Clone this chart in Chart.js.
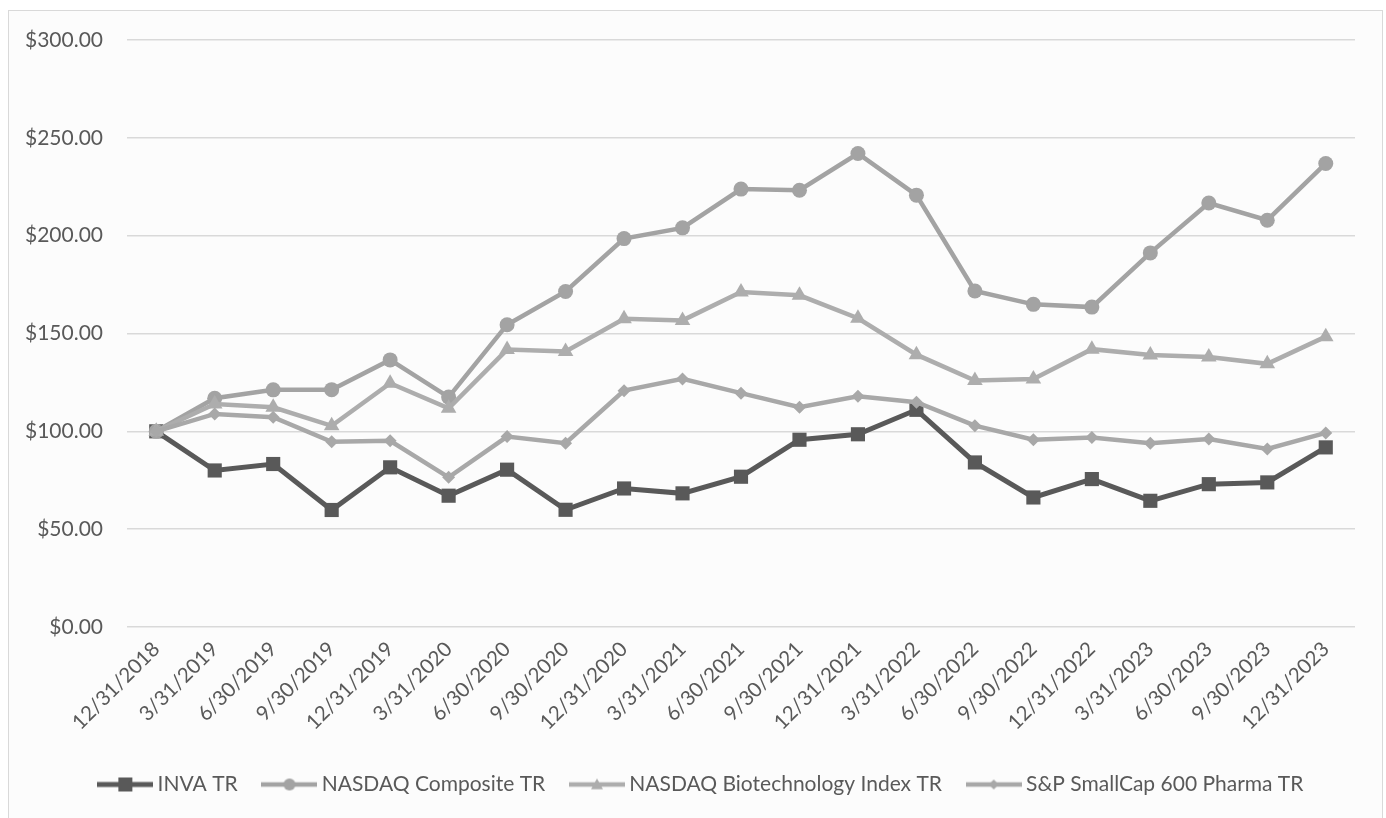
<!DOCTYPE html>
<html>
<head>
<meta charset="utf-8">
<script src="https://cdn.jsdelivr.net/npm/chart.js"></script>
<style>
  html, body { margin: 0; padding: 0; background: #ffffff; }
  body { width: 1386px; height: 818px; position: relative; overflow: hidden; }
  #frame { position: absolute; left: 8px; top: 10px; width: 1375px; height: 820px;
           border: 1px solid #d9d9d9; background: #fcfcfc; box-sizing: border-box; }
  #wrap { position: absolute; left: 0; top: 0; width: 1386px; height: 818px; }
</style>
</head>
<body>
<div id="frame"></div>
<div id="wrap"><canvas id="chart"></canvas></div>
<script>
// Quarter-end dates
const dates = ['12/31/2018', '3/31/2019', '6/30/2019', '9/30/2019', '12/31/2019',
    '3/31/2020', '6/30/2020', '9/30/2020', '12/31/2020', '3/31/2021', '6/30/2021',
    '9/30/2021', '12/31/2021', '3/31/2022', '6/30/2022', '9/30/2022', '12/31/2022',
    '3/31/2023', '6/30/2023', '9/30/2023', '12/31/2023'];

const invaTR = [100, 80, 83.3, 59.8, 81.6, 67.1, 80.4, 59.9, 70.8, 68.3, 76.8,
    95.7, 98.5, 111, 84.1, 66.2, 75.6, 64.5, 73, 73.9, 91.8];
const nasdaqComposite = [100, 116.9, 121.2, 121.3, 136.5, 117.5, 154.5, 171.5, 198.5, 204, 223.8,
    223.2, 242, 220.7, 171.7, 164.9, 163.5, 191.2, 216.7, 207.9, 236.9];
const nasdaqBiotech = [100, 114, 112.3, 102.8, 124.6, 111.8, 141.8, 140.8, 157.5, 156.7, 171.2,
    169.5, 157.8, 139.2, 126, 126.8, 142, 139, 138, 134.5, 148.4];
const spPharma = [100, 108.9, 107.2, 94.7, 95.2, 76.5, 97.3, 93.9, 120.8, 126.8, 119.5,
    112.3, 117.9, 114.9, 102.9, 95.7, 96.9, 93.9, 96.1, 91, 99.2];

const yTicks = [0, 50, 100, 150, 200, 250, 300];

const FONT = 'Lato, "Open Sans", sans-serif';
const TEXT = '#595959';

// Legend symbol: a short line with the marker in the middle
function legendIcon(color, style, size, lw) {
    const c = document.createElement('canvas');
    c.width = 56;
    c.height = 20;
    const ctx = c.getContext('2d');
    ctx.strokeStyle = color;
    ctx.lineWidth = lw;
    ctx.beginPath();
    ctx.moveTo(0, 10);
    ctx.lineTo(56, 10);
    ctx.stroke();
    ctx.fillStyle = color;
    ctx.beginPath();
    if (style === 'rect') {
        ctx.rect(28 - size, 10 - size, size * 2, size * 2);
    } else if (style === 'circle') {
        ctx.arc(28, 10, size, 0, Math.PI * 2);
    } else if (style === 'triangle') {
        ctx.moveTo(28, 10 - size);
        ctx.lineTo(28 + size, 10 + size * 0.8);
        ctx.lineTo(28 - size, 10 + size * 0.8);
        ctx.closePath();
    } else {
        ctx.moveTo(28, 10 - size);
        ctx.lineTo(28 + size, 10);
        ctx.lineTo(28, 10 + size);
        ctx.lineTo(28 - size, 10);
        ctx.closePath();
    }
    ctx.fill();
    return c;
}

const series = [
    { label: 'INVA TR', data: invaTR, color: '#595959', style: 'rect', radius: 10, lw: 5, icon: 7 },
    { label: 'NASDAQ Composite TR', data: nasdaqComposite, color: '#a3a3a3', style: 'circle', radius: 7.5, lw: 4.5, icon: 6 },
    { label: 'NASDAQ Biotechnology Index TR', data: nasdaqBiotech, color: '#adadad', style: 'triangle', radius: 9, lw: 4.5, icon: 6 },
    { label: 'S&P SmallCap 600 Pharma TR', data: spPharma, color: '#a8a8a8', style: 'rectRot', radius: 6.5, lw: 4.5, icon: 5 }
];

const datasets = series.map((s, i) => ({
    label: s.label,
    data: s.data,
    borderColor: s.color,
    backgroundColor: s.color,
    borderWidth: s.lw,
    pointStyle: s.style,
    pointRadius: s.radius,
    pointBorderWidth: 0,
    pointBackgroundColor: s.color,
    tension: 0,
    order: series.length - i,
    legendIcon: legendIcon(s.color, s.style, s.icon, s.lw)
}));

// nudge the legend a bit to the right, like the original
const legendShift = {
    id: 'legendShift',
    afterLayout(chart) {
        chart.legend.left += 26;
        chart.legend.right += 26;
    }
};

new Chart(document.getElementById('chart'), {
    type: 'line',
    data: { labels: dates, datasets: datasets },
    plugins: [legendShift],
    options: {
        responsive: true,
        maintainAspectRatio: false,
        animation: false,
        layout: { padding: { left: 0, right: 31, top: 40, bottom: 13 } },
        scales: {
            x: {
                offset: true,
                grid: { display: false },
                border: { display: false },
                ticks: {
                    color: TEXT,
                    font: { family: FONT, size: 20.5 },
                    minRotation: 45,
                    maxRotation: 45,
                    autoSkip: false,
                    padding: 2
                },
                afterFit: s => { s.height = 117; }
            },
            y: {
                min: 0,
                max: 300,
                afterBuildTicks: s => { s.ticks = yTicks.map(v => ({ value: v })); },
                grid: { color: '#d9d9d9', lineWidth: 1.5, drawTicks: false },
                border: { display: false },
                ticks: {
                    color: TEXT,
                    font: { family: FONT, size: 21 },
                    padding: 24,
                    callback: v => '$' + Number(v).toFixed(2)
                },
                afterFit: s => { s.width = 127; }
            }
        },
        plugins: {
            legend: {
                position: 'bottom',
                labels: {
                    color: TEXT,
                    font: { family: FONT, size: 21 },
                    usePointStyle: true,
                    pointStyleWidth: 43.5,
                    padding: 30,
                    sort: (a, b) => a.datasetIndex - b.datasetIndex,
                    generateLabels: chart => chart.data.datasets.map((d, i) => ({
                        text: d.label,
                        fillStyle: d.borderColor,
                        strokeStyle: d.borderColor,
                        fontColor: TEXT,
                        lineWidth: 0,
                        pointStyle: d.legendIcon,
                        hidden: false,
                        datasetIndex: i
                    }))
                }
            },
            tooltip: { enabled: false }
        }
    }
});
</script>
</body>
</html>
